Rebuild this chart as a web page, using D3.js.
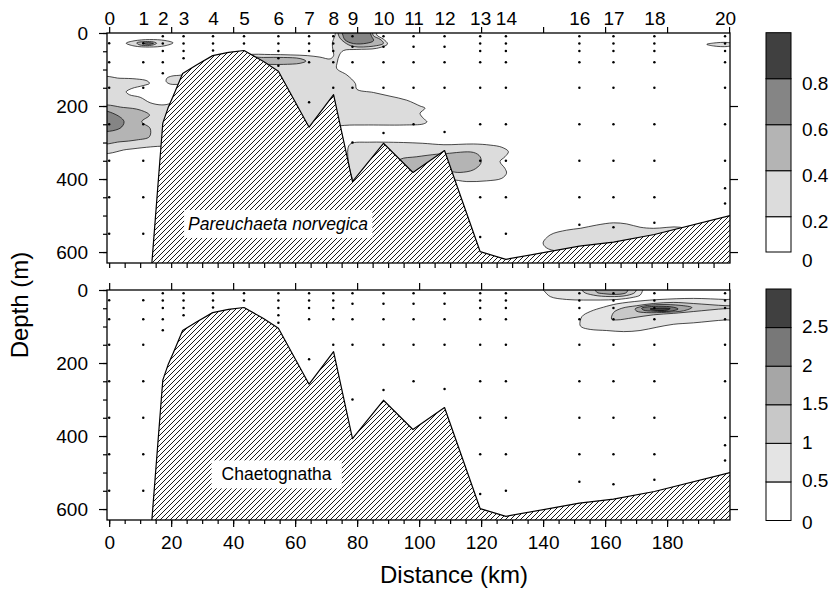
<!DOCTYPE html>
<html>
<head>
<meta charset="utf-8">
<script src="https://cdn.jsdelivr.net/npm/d3@7"></script>
<style>
  html, body { margin: 0; padding: 0; background: #fff; }
  svg { display: block; font-family: "Liberation Sans", Arial, Helvetica, sans-serif; }
</style>
</head>
<body>
<svg id="chart" width="833" height="591"></svg>
<script>
// ---- Stations along the transect ----
const stationIds = [0, 1, 2, 3, 4, 5, 6, 7, 8, 9, 10, 11, 12, 13, 14, 16, 17, 18, 20];
const stationKm  = [0, 11.0, 17.3, 24.0, 33.5, 43.5, 54.6, 64.5, 72.3, 78.5, 88.5, 98.2, 108.2, 119.7, 128, 151.7, 162.7, 175.9, 198.7];
// sampling depths (m) at each station
const sampleDepths = [
  [28, 80, 150, 250, 350, 450, 550],
  [28, 80, 150, 250, 350, 450, 550],
  [9, 29, 49, 80, 110],
  [9, 29, 49, 69],
  [9, 29, 48],
  [9, 29],
  [9, 29, 49, 69, 90],
  [9, 29, 49, 80, 190],
  [9, 29, 49, 80, 150],
  [9, 38, 80, 150, 300],
  [9, 38, 80, 150, 274],
  [9, 38, 80, 150, 250],
  [9, 38, 80, 150, 271],
  [9, 29, 49, 80, 150, 250, 350, 450, 559],
  [9, 29, 49, 80, 150, 250, 350, 450, 550],
  [9, 29, 49, 80, 150, 250, 350, 450, 525],
  [9, 29, 49, 80, 150, 250, 350, 450, 532],
  [9, 29, 49, 80, 150, 250, 350, 450, 520],
  [9, 29, 49, 80, 150, 250, 350, 425, 467]
];

// ---- Bottom topography (km, m) ----
const bathyKm    = [13.5, 17.3, 19.0, 20.7, 23.7, 28.3, 33.4, 38.5, 43.5, 49.8, 54.6, 64.5, 72.4, 78.5, 88.5, 98.0, 108.2, 119.7, 128.0, 151.7, 162.7, 175.9, 200.3];
const bathyDepth = [660, 247, 205, 172, 111, 87, 62, 53, 48, 78, 105, 258, 169, 407, 302, 382, 322, 599, 620, 584, 573, 552, 500];

// ---- Contour levels and legends ----
const norvegicaLevels = [0, 0.2, 0.4, 0.6, 0.8, 1.0];
const norvegicaTicks  = [0, 0.2, 0.4, 0.6, 0.8];
const norvegicaGreys  = ["#ffffff", "#dcdcdc", "#b4b4b4", "#858585", "#404040"];
const chaetoLevels = [0, 0.5, 1, 1.5, 2, 2.5, 3];
const chaetoTicks  = [0, 0.5, 1, 1.5, 2, 2.5];
const chaetoGreys  = ["#ffffff", "#e4e4e4", "#c8c8c8", "#a6a6a6", "#787878", "#404040"];

// ---- Filled contour regions: lower bound of the band, outline in (km, m) ----
const norvegicaContours = [
  { level: 0.2, pts: [[-3,124],[3.5,124],[8.9,126],[12.2,131],[13,138],[11,144],[7.3,152],[5.5,161],[6.5,169],[10,176],[13.2,191],[17,197],[19.7,193],
      [24,172],[24.5,150],[23.4,142],[19.7,140],[18.4,133],[18.6,124],[20.2,118],[23.4,115],[30,100],[38,78],[44.4,60],[52,59],[58.4,60],[64,62],[68,66],[71.3,71],
      [72.4,62],[72.2,47],[72.0,28],[72.8,8],[73.4,-6],[86.5,-6],[86.3,5],[88.5,17],[89.8,30],[86.3,42],[79.9,45],[75.6,48],[74.3,60],[73.6,80],[73.4,97],
      [76.7,115],[79.4,138],[79.9,154],[85.3,163],[90.6,173],[96,184],[100.3,200],[101.9,206],[100.3,220],[101.4,234],[102.5,243],[101.4,249],[95,252],[82.3,252],[76,253],
      [66,264],[50,290],[30,310],[17,310],[12.1,313],[5.7,319],[-3,325]] },
  { level: 0.2, pts: [[77,318],[78,303],[84,299],[88.5,299],[95,300],[101,302],[108,306],[117.5,304],[122.9,307],[126.7,313],[128.8,325],[127.7,339],[126.1,352],
      [127.7,371],[128.2,384],[126.7,398],[121.8,405],[115.4,407],[110,403],[104,425],[90,430],[80,420]] },
  { level: 0.2, pts: [[140,575],[142.3,553],[147.6,540],[152,535],[157.3,526],[162.7,520],[167,523],[171.3,532],[175.6,535],[184.2,532],[188,545],[180,575],[160,598],[145,598],[141,588]] },
  { level: 0.2, pts: [[5.5,28],[8,21.5],[13,18],[18,20.5],[20.6,27],[18,35],[13,38.5],[8,35.5]] },
  { level: 0.2, pts: [[192.8,31],[195,27.5],[199.5,26],[202,31],[199.5,37],[195,35.5]] },
  { level: 0.4, pts: [[-3,202],[4.6,204],[10,211],[13,225],[10.5,243],[13.2,261],[13,284],[8.9,293],[3.5,298],[-3,300]] },
  { level: 0.4, pts: [[45,68],[49.8,67],[56.2,67],[61.6,70],[63.5,77],[61.6,83],[56.2,86],[51.9,86],[46,84]] },
  { level: 0.4, pts: [[92,365],[93.9,346],[99.2,339],[105.7,332],[108.9,330],[117.5,327],[119.7,339],[119.9,357],[117.5,375],[113.2,382],[109.5,380],[100,395]] },
  { level: 0.4, pts: [[8.9,27],[11.6,23.5],[14.3,24.5],[15.3,28],[14.3,32.5],[11.6,34.5],[9.5,31.5]] },
  { level: 0.4, pts: [[74,-6],[74.2,10],[76,26],[78.8,37],[85.3,36],[88.5,28],[87.4,17],[85.3,8],[84.5,-6]] },
  { level: 0.6, pts: [[-3,214],[2.5,225],[4.8,243],[3.5,261],[-3,266]] },
  { level: 0.6, pts: [[10.8,28.5],[12.7,26.5],[14.3,28.5],[12.7,31]] },
  { level: 0.6, pts: [[75.2,-6],[75.4,6],[76.1,19],[78.8,29],[83.1,28],[85.3,21],[84.7,10],[83.6,-6]] }
];

const chaetoContours = [
  { level: 0.5, pts: [[139.5,-6],[140.3,2],[142.3,18],[147.6,26],[153,27.5],[158.4,27.5],[163.8,26],[169.1,20],[171.3,14],[172,4],[172.2,-6]] },
  { level: 0.5, pts: [[151.9,96],[152.5,73],[155.2,59],[159.5,47],[163.8,38],[171.3,30],[177.7,26],[188.5,23],[199,26],[204,27],[204,82],[199,82],[188.5,90],[182,94],[176.7,102],[171.3,111],[166,114],[160.5,111],[155.2,108],[152.5,102]] },
  { level: 1, pts: [[152.5,-6],[153,5],[156.2,14],[161.6,18],[167,15],[169.7,6],[170,-6]] },
  { level: 1, pts: [[162.1,80],[162.7,62],[165.4,50],[170.2,43],[175.6,37],[182,34],[188.5,37],[199,43],[204,44],[204,50],[199,51],[188.5,59],[182,64],[175.6,68],[169,76],[163.8,82]] },
  { level: 1.5, pts: [[156.8,-6],[157.3,6],[159.4,10],[164.8,11.5],[167,6],[167.3,-6]] },
  { level: 1.5, pts: [[169.7,52],[172.4,44],[177.7,40],[184.2,42],[188,48],[185.3,57],[179.9,61],[173.4,62],[170.2,58]] },
  { level: 2, pts: [[171.8,50],[175.6,45],[182,47],[183.6,52],[181,58],[175.6,58],[172.4,55]] },
  { level: 2.5, pts: [[174.5,52],[177.5,49.5],[181,51],[180,55],[176,55.5]] }
];

// ---- Layout ----
const svg = d3.select("#chart");
const x = d3.scaleLinear().domain([-0.7, 200.3]).range([107, 730]);
const panels = [
  { id: "top", y: d3.scaleLinear().domain([0, 630]).range([33, 263]),
    contours: norvegicaContours, greys: norvegicaGreys, levels: norvegicaLevels,
    label: "Pareuchaeta norvegica", italic: true, labelKm: 54.5, labelDepth: 523, padX: 4, padY: 4 },
  { id: "bottom", y: d3.scaleLinear().domain([0, 630]).range([290, 520]),
    contours: chaetoContours, greys: chaetoGreys, levels: chaetoLevels,
    label: "Chaetognatha", italic: false, labelKm: 54, labelDepth: 505, padX: 10, padY: 4 }
];

// hatch pattern for the sea floor
const defs = svg.append("defs");
const pat = defs.append("pattern").attr("id", "hatch")
  .attr("patternUnits", "userSpaceOnUse").attr("width", 5).attr("height", 5);
pat.append("rect").attr("width", 5).attr("height", 5).attr("fill", "#fff");
pat.append("path").attr("d", "M-1,1 l2,-2 M0,5 l5,-5 M4,6 l2,-2")
  .attr("stroke", "#000").attr("stroke-width", 0.9).attr("shape-rendering", "auto");

const bathy = bathyKm.map((k, i) => [k, bathyDepth[i]]);

panels.forEach((p, pi) => {
  const y = p.y;
  const [y0, y1] = y.range();
  const [xa, xb] = x.range();
  defs.append("clipPath").attr("id", "clip-" + p.id)
    .append("rect").attr("x", xa).attr("y", y0).attr("width", xb - xa).attr("height", y1 - y0);

  const g = svg.append("g").attr("clip-path", "url(#clip-" + p.id + ")");
  const colour = d3.scaleThreshold().domain(p.levels.slice(1, -1)).range(p.greys);

  const shape = d3.line().x(d => x(d[0])).y(d => y(d[1])).curve(d3.curveCatmullRomClosed.alpha(0.5));
  const ordered = p.contours.slice().sort((a, b) => a.level - b.level);
  g.selectAll("path.band").data(ordered).join("path")
    .attr("class", "band")
    .attr("d", d => shape(d.pts))
    .attr("fill", d => colour(d.level))
    .attr("stroke", "#000").attr("stroke-width", 0.7);

  // sampling points
  const pts = [];
  stationKm.forEach((k, i) => sampleDepths[i].forEach(dep => pts.push([k, dep])));
  g.selectAll("circle.sample").data(pts).join("circle")
    .attr("class", "sample")
    .attr("cx", d => x(d[0])).attr("cy", d => y(d[1])).attr("r", 1.25).attr("fill", "#000");

  // sea floor
  const floor = bathy.concat([[200.3, 700], [13.5, 700]]);
  g.append("path")
    .attr("d", d3.line().x(d => x(d[0])).y(d => y(d[1]))(floor) + "Z")
    .attr("fill", "url(#hatch)").attr("stroke", "none");
  g.append("path")
    .attr("d", d3.line().x(d => x(d[0])).y(d => y(d[1]))(bathy))
    .attr("fill", "none").attr("stroke", "#000").attr("stroke-width", 1.2).attr("stroke-linejoin", "round");

  // taxon label with white box
  const lab = svg.append("g");
  const t = lab.append("text")
    .attr("x", x(p.labelKm)).attr("y", y(p.labelDepth))
    .attr("text-anchor", "middle").attr("dominant-baseline", "central")
    .attr("font-size", 17.5).attr("font-style", p.italic ? "italic" : "normal")
    .text(p.label);
  const bb = t.node().getBBox();
  lab.insert("rect", "text")
    .attr("x", bb.x - p.padX).attr("y", bb.y - p.padY)
    .attr("width", bb.width + 2 * p.padX).attr("height", bb.height + 2 * p.padY)
    .attr("fill", "#fff");

  // frame
  svg.append("rect").attr("x", xa).attr("y", y0).attr("width", xb - xa).attr("height", y1 - y0)
    .attr("fill", "none").attr("stroke", "#000").attr("stroke-width", 1.3);

  // left axis: minor and major ticks
  const left = svg.append("g").attr("transform", `translate(${xa},0)`);
  left.call(d3.axisLeft(y).tickValues(d3.range(0, 601, 50)).tickSize(4).tickFormat(""));
  left.append("g").call(d3.axisLeft(y).tickValues([0, 200, 400, 600]).tickSize(8).tickPadding(11));
  // right axis ticks
  const right = svg.append("g").attr("transform", `translate(${xb},0)`);
  right.call(d3.axisRight(y).tickValues([200, 400, 600]).tickSize(8).tickFormat(""));

  if (pi === 0) {
    const top = svg.append("g").attr("transform", `translate(0,${y0})`);
    top.call(d3.axisTop(x).tickValues(d3.range(0, 201, 20)).tickSize(6).tickFormat(""));
    const st = svg.append("g").attr("transform", `translate(0,${y0})`);
    st.call(d3.axisTop(x).tickValues(stationKm).tickSize(0).tickPadding(8)
      .tickFormat((d, i) => stationIds[i]));
    const bot = svg.append("g").attr("transform", `translate(0,${y1})`);
    bot.call(d3.axisBottom(x).tickValues(d3.range(0, 200, 5)).tickSize(5).tickFormat(""));
  } else {
    const top = svg.append("g").attr("transform", `translate(0,${y0})`);
    top.call(d3.axisTop(x).tickValues(d3.range(0, 201, 20)).tickSize(7).tickFormat(""));
    const bot = svg.append("g").attr("transform", `translate(0,${y1})`);
    bot.call(d3.axisBottom(x).tickValues(d3.range(0, 200, 5)).tickSize(4).tickFormat(""));
    bot.append("g").call(d3.axisBottom(x).tickValues(d3.range(0, 181, 20)).tickSize(7).tickPadding(9));
  }
});

svg.selectAll(".domain").remove();
svg.selectAll(".tick line").attr("stroke", "#000").attr("stroke-width", 1.2);
svg.selectAll(".tick text").attr("font-size", 19).attr("fill", "#000")
  .attr("font-family", "'Liberation Sans', Arial, Helvetica, sans-serif");

// ---- colour bars ----
const bars = [
  { levels: norvegicaLevels, greys: norvegicaGreys, ticks: norvegicaTicks,
    scale: d3.scaleLinear().domain([0, 0.2, 1.0]).range([252, 216.7, 32.7]), labelShift: 5 },
  { levels: chaetoLevels, greys: chaetoGreys, ticks: chaetoTicks,
    scale: d3.scaleLinear().domain([0, 3]).range([520.5, 289]), labelShift: -1 }
];
bars.forEach(b => {
  const g = svg.append("g");
  const bands = d3.pairs(b.levels).map((pr, i) => ({ lo: pr[0], hi: pr[1], c: b.greys[i] }));
  g.selectAll("rect").data(bands).join("rect")
    .attr("x", 766).attr("width", 25)
    .attr("y", d => b.scale(d.hi)).attr("height", d => b.scale(d.lo) - b.scale(d.hi))
    .attr("fill", d => d.c).attr("stroke", "#000").attr("stroke-width", 1);
  g.selectAll("text").data(b.ticks).join("text")
    .attr("x", 802).attr("y", d => b.scale(d) + b.labelShift + (d === 0 ? 3 : 0))
    .attr("dominant-baseline", "central").attr("font-size", 19)
    .text(d => d);
});

// ---- axis titles ----
svg.append("text").attr("x", 454).attr("y", 583).attr("text-anchor", "middle")
  .attr("font-size", 24).text("Distance (km)");
svg.append("text").attr("transform", "translate(28,305) rotate(-90)").attr("text-anchor", "middle")
  .attr("font-size", 24).text("Depth (m)");
</script>
</body>
</html>
